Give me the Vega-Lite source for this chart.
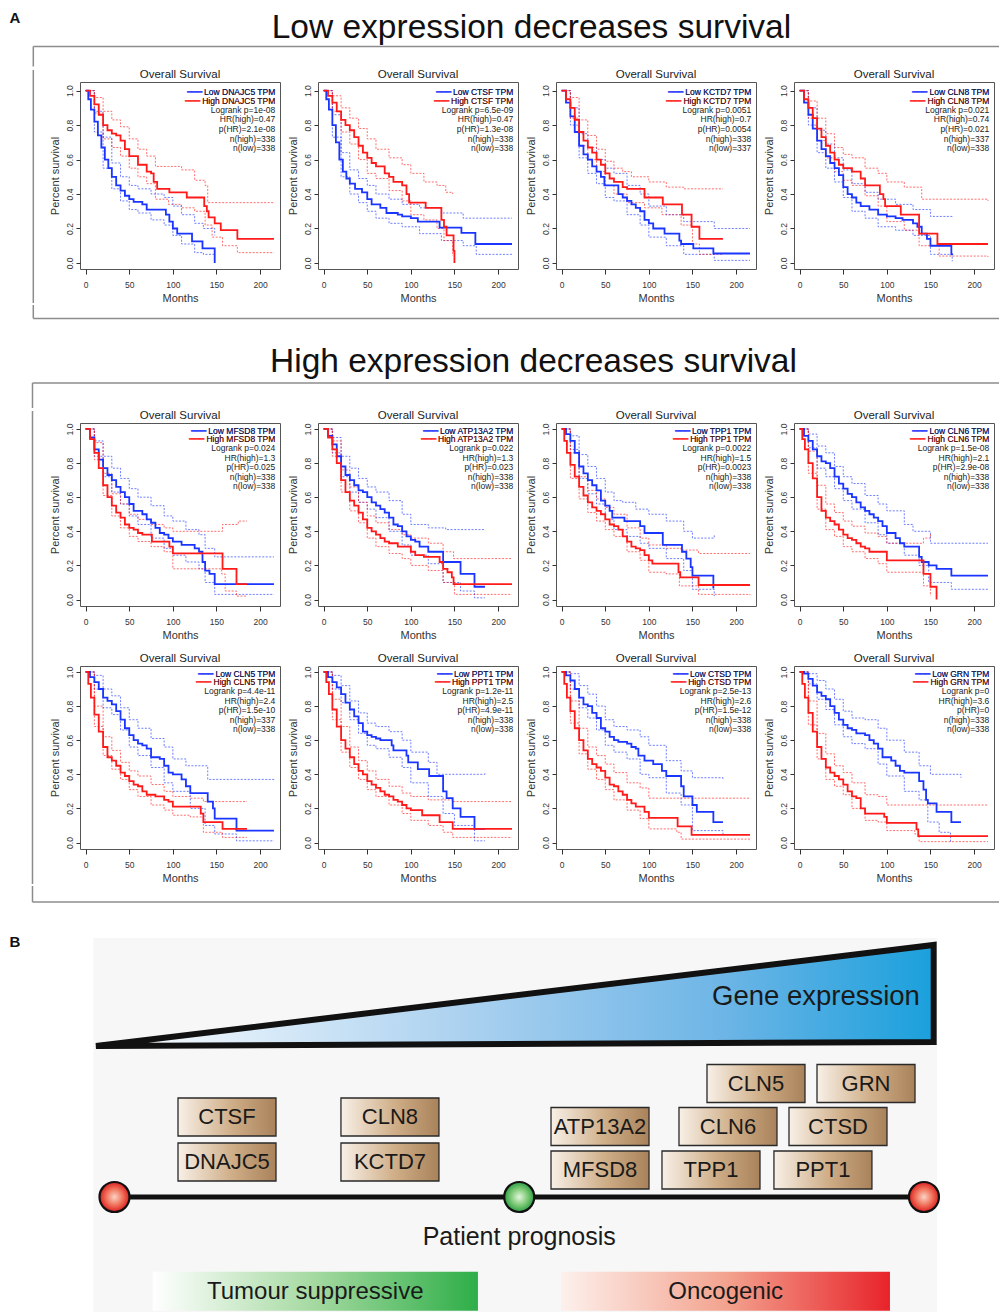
{
"$schema": "https://vega.github.io/schema/vega-lite/v6.json",
"background": "white",
"padding": 0,
"spacing": 0,
"config": {
  "font": "Liberation Sans",
  "view": {"stroke": "#555", "strokeWidth": 1},
  "header": {"labelFont": "Liberation Sans", "labelFontSize": 11.5, "labelColor": "#222", "labelPadding": 1.5},
  "axis": {"labelFont": "Liberation Sans", "titleFont": "Liberation Sans", "grid": false, "domain": false, "tickColor": "#333", "labelColor": "#333", "titleColor": "#333", "titleFontWeight": "normal", "labelFlush": false, "labelOverlap": false},
  "text": {"font": "Liberation Sans"}
},
"datasets": {
  "kmA": [
    {"r":"s","g":"DNAJC5","lo":"Low DNAJC5 TPM","hi":"High DNAJC5 TPM","txt":"Logrank p=1e-08\nHR(high)=0.47\np(HR)=2.1e-08\nn(high)=338\nn(low)=338"},
    {"r":"s","g":"CTSF","lo":"Low CTSF TPM","hi":"High CTSF TPM","txt":"Logrank p=6.5e-09\nHR(high)=0.47\np(HR)=1.3e-08\nn(high)=338\nn(low)=338"},
    {"r":"s","g":"KCTD7","lo":"Low KCTD7 TPM","hi":"High KCTD7 TPM","txt":"Logrank p=0.0051\nHR(high)=0.7\np(HR)=0.0054\nn(high)=338\nn(low)=337"},
    {"r":"s","g":"CLN8","lo":"Low CLN8 TPM","hi":"High CLN8 TPM","txt":"Logrank p=0.021\nHR(high)=0.74\np(HR)=0.021\nn(high)=337\nn(low)=338"},
    {"r":"c","g":"DNAJC5","c":"Low","k":"m","t":[0,3,6,10,14,18,22,26,30,35,40,45,50,55,65,70,88,92,96,100,105,120,122,133,134,147,148],"s":[1,0.95,0.89,0.82,0.74,0.67,0.6,0.55,0.5,0.45,0.42,0.39,0.37,0.355,0.34,0.31,0.31,0.28,0.24,0.2,0.17,0.17,0.125,0.125,0.085,0.085,0]},
    {"r":"c","g":"DNAJC5","c":"Low","k":"u","t":[0,10,20,30,40,50,60,75,90,100,110,125,135,148],"s":[1,0.88,0.73,0.58,0.5,0.45,0.43,0.4,0.38,0.33,0.28,0.23,0.2,0.16]},
    {"r":"c","g":"DNAJC5","c":"Low","k":"l","t":[0,10,20,30,40,50,60,75,90,100,110,125,135,148],"s":[1,0.76,0.55,0.43,0.36,0.31,0.29,0.25,0.22,0.16,0.11,0.06,0.05,0.05]},
    {"r":"c","g":"DNAJC5","c":"High","k":"m","t":[0,5,10,15,20,25,30,35,40,45,50,60,70,75,78,82,95,96,115,116,135,136,139,141,148,155,173,174,216],"s":[1,0.97,0.92,0.86,0.8,0.77,0.75,0.74,0.71,0.66,0.62,0.57,0.53,0.52,0.47,0.43,0.43,0.41,0.41,0.38,0.38,0.33,0.3,0.265,0.23,0.19,0.19,0.14,0.14]},
    {"r":"c","g":"DNAJC5","c":"High","k":"u","t":[0,10,20,30,40,50,60,70,80,95,110,125,137,140,216],"s":[1,0.96,0.88,0.83,0.79,0.72,0.66,0.62,0.56,0.56,0.54,0.48,0.45,0.35,0.35]},
    {"r":"c","g":"DNAJC5","c":"High","k":"l","t":[0,10,20,30,40,50,60,70,80,95,110,125,137,145,157,174,216],"s":[1,0.87,0.72,0.67,0.62,0.55,0.5,0.46,0.37,0.34,0.32,0.3,0.22,0.15,0.1,0.06,0.06]},
    {"r":"c","g":"CTSF","c":"Low","k":"m","t":[0,3,6,10,14,18,22,26,30,36,44,50,55,65,72,85,90,100,108,132,133,157,158,173,174,216],"s":[1,0.95,0.89,0.8,0.7,0.6,0.53,0.49,0.46,0.43,0.41,0.37,0.34,0.32,0.29,0.28,0.27,0.26,0.24,0.24,0.205,0.205,0.175,0.175,0.11,0.11]},
    {"r":"c","g":"CTSF","c":"Low","k":"u","t":[0,10,20,30,40,50,60,75,90,110,135,160,216],"s":[1,0.86,0.64,0.54,0.49,0.45,0.4,0.37,0.34,0.32,0.29,0.26,0.26]},
    {"r":"c","g":"CTSF","c":"Low","k":"l","t":[0,10,20,30,40,50,60,75,90,110,135,160,175,216],"s":[1,0.73,0.5,0.4,0.35,0.3,0.26,0.23,0.21,0.17,0.13,0.1,0.05,0.05]},
    {"r":"c","g":"CTSF","c":"High","k":"m","t":[0,5,10,15,20,25,30,35,40,45,50,55,60,70,75,80,90,95,98,115,117,133,135,138,141,148,149,150],"s":[1,0.97,0.93,0.88,0.83,0.8,0.77,0.73,0.68,0.64,0.61,0.58,0.56,0.52,0.5,0.47,0.45,0.4,0.35,0.35,0.32,0.32,0.25,0.21,0.16,0.16,0.07,0]},
    {"r":"c","g":"CTSF","c":"High","k":"u","t":[0,10,20,30,40,50,60,75,90,100,115,130,140,148],"s":[1,0.97,0.9,0.84,0.78,0.72,0.66,0.61,0.57,0.52,0.47,0.45,0.41,0.4]},
    {"r":"c","g":"CTSF","c":"High","k":"l","t":[0,10,20,30,40,50,60,75,90,100,115,130,138,148],"s":[1,0.88,0.76,0.69,0.6,0.52,0.49,0.42,0.36,0.28,0.25,0.2,0.13,0.04]},
    {"r":"c","g":"KCTD7","c":"Low","k":"m","t":[0,5,10,15,20,25,30,35,40,45,49,60,65,70,75,80,85,90,95,100,105,115,118,130,135,137,150,151,173,174,216],"s":[1,0.93,0.85,0.76,0.68,0.63,0.6,0.56,0.53,0.5,0.45,0.45,0.4,0.38,0.36,0.34,0.32,0.3,0.25,0.23,0.2,0.2,0.17,0.17,0.13,0.11,0.11,0.085,0.085,0.055,0.055]},
    {"r":"c","g":"KCTD7","c":"Low","k":"u","t":[0,10,20,30,40,50,60,75,90,100,120,140,175,216],"s":[1,0.9,0.75,0.67,0.6,0.55,0.52,0.45,0.4,0.33,0.28,0.24,0.2,0.2]},
    {"r":"c","g":"KCTD7","c":"Low","k":"l","t":[0,10,20,30,40,50,60,75,90,100,120,140,175,216],"s":[1,0.8,0.61,0.52,0.46,0.38,0.36,0.28,0.22,0.15,0.1,0.05,0.015,0.015]},
    {"r":"c","g":"KCTD7","c":"High","k":"m","t":[0,5,10,15,20,25,30,35,40,45,50,55,60,70,75,90,95,115,116,137,138,148,149,156,158,185],"s":[1,0.95,0.9,0.83,0.76,0.71,0.67,0.64,0.6,0.57,0.52,0.49,0.47,0.44,0.43,0.43,0.38,0.38,0.34,0.34,0.28,0.28,0.21,0.21,0.14,0.14]},
    {"r":"c","g":"KCTD7","c":"High","k":"u","t":[0,10,20,30,40,50,60,70,80,100,120,140,185],"s":[1,0.96,0.83,0.74,0.66,0.59,0.55,0.53,0.5,0.47,0.44,0.43,0.43]},
    {"r":"c","g":"KCTD7","c":"High","k":"l","t":[0,10,20,30,40,50,60,75,95,115,137,150,158,185],"s":[1,0.84,0.68,0.6,0.53,0.45,0.4,0.35,0.32,0.28,0.22,0.11,0.05,0.05]},
    {"r":"c","g":"CLN8","c":"Low","k":"m","t":[0,5,10,15,20,25,30,35,40,45,50,55,60,65,70,80,90,100,110,118,130,135,140,146,150,172,174,176],"s":[1,0.93,0.86,0.78,0.71,0.66,0.62,0.58,0.55,0.51,0.44,0.4,0.38,0.35,0.33,0.31,0.28,0.27,0.26,0.25,0.23,0.21,0.17,0.14,0.1,0.1,0.05,0.05]},
    {"r":"c","g":"CLN8","c":"Low","k":"u","t":[0,10,20,30,40,50,60,75,90,110,130,150,175],"s":[1,0.9,0.77,0.69,0.61,0.54,0.46,0.41,0.37,0.34,0.31,0.27,0.26]},
    {"r":"c","g":"CLN8","c":"Low","k":"l","t":[0,10,20,30,40,50,60,75,90,110,130,150,175],"s":[1,0.8,0.64,0.55,0.47,0.38,0.3,0.26,0.21,0.19,0.16,0.05,0.01]},
    {"r":"c","g":"CLN8","c":"High","k":"m","t":[0,5,10,15,20,25,30,35,40,45,50,60,66,70,75,88,92,96,98,114,116,135,137,157,158,216],"s":[1,0.95,0.9,0.84,0.78,0.73,0.68,0.64,0.6,0.57,0.55,0.53,0.53,0.49,0.45,0.45,0.4,0.37,0.33,0.33,0.28,0.28,0.17,0.17,0.11,0.11]},
    {"r":"c","g":"CLN8","c":"High","k":"u","t":[0,10,20,30,40,50,60,75,90,100,120,140,216],"s":[1,0.94,0.84,0.75,0.67,0.63,0.61,0.55,0.52,0.47,0.44,0.37,0.36]},
    {"r":"c","g":"CLN8","c":"High","k":"l","t":[0,10,20,30,40,50,60,75,90,100,120,137,160,216],"s":[1,0.84,0.71,0.61,0.53,0.48,0.45,0.39,0.33,0.24,0.19,0.1,0.04,0.035]}
  ],
  "kmB": [
    {"r":"s","g":"MFSD8","lo":"Low MFSD8 TPM","hi":"High MFSD8 TPM","txt":"Logrank p=0.024\nHR(high)=1.3\np(HR)=0.025\nn(high)=338\nn(low)=338"},
    {"r":"s","g":"ATP13A2","lo":"Low ATP13A2 TPM","hi":"High ATP13A2 TPM","txt":"Logrank p=0.022\nHR(high)=1.3\np(HR)=0.023\nn(high)=338\nn(low)=338"},
    {"r":"s","g":"TPP1","lo":"Low TPP1 TPM","hi":"High TPP1 TPM","txt":"Logrank p=0.0022\nHR(high)=1.5\np(HR)=0.0023\nn(high)=338\nn(low)=338"},
    {"r":"s","g":"CLN6","lo":"Low CLN6 TPM","hi":"High CLN6 TPM","txt":"Logrank p=1.5e-08\nHR(high)=2.1\np(HR)=2.9e-08\nn(high)=338\nn(low)=338"},
    {"r":"s","g":"CLN5","lo":"Low CLN5 TPM","hi":"High CLN5 TPM","txt":"Logrank p=4.4e-11\nHR(high)=2.4\np(HR)=1.5e-10\nn(high)=337\nn(low)=338"},
    {"r":"s","g":"PPT1","lo":"Low PPT1 TPM","hi":"High PPT1 TPM","txt":"Logrank p=1.2e-11\nHR(high)=2.5\np(HR)=4.9e-11\nn(high)=338\nn(low)=338"},
    {"r":"s","g":"CTSD","lo":"Low CTSD TPM","hi":"High CTSD TPM","txt":"Logrank p=2.5e-13\nHR(high)=2.6\np(HR)=1.5e-12\nn(high)=338\nn(low)=338"},
    {"r":"s","g":"GRN","lo":"Low GRN TPM","hi":"High GRN TPM","txt":"Logrank p=0\nHR(high)=3.6\np(HR)=0\nn(high)=338\nn(low)=338"},
    {"r":"c","g":"MFSD8","c":"Low","k":"m","t":[0,5,10,15,20,25,30,35,40,45,50,55,65,70,75,80,85,90,95,100,110,125,130,134,137,142,148,216],"s":[1,0.95,0.88,0.82,0.77,0.73,0.7,0.66,0.63,0.6,0.56,0.52,0.5,0.47,0.45,0.42,0.39,0.38,0.36,0.34,0.32,0.3,0.28,0.22,0.17,0.15,0.09,0.09]},
    {"r":"c","g":"MFSD8","c":"Low","k":"u","t":[0,10,20,30,40,50,60,75,90,100,115,130,137,148,216],"s":[1,0.93,0.84,0.77,0.71,0.65,0.6,0.55,0.49,0.46,0.41,0.38,0.3,0.25,0.25]},
    {"r":"c","g":"MFSD8","c":"Low","k":"l","t":[0,10,20,30,40,50,60,75,90,100,115,130,137,148,216],"s":[1,0.84,0.72,0.63,0.56,0.49,0.44,0.36,0.3,0.26,0.22,0.18,0.1,0.03,0.03]},
    {"r":"c","g":"MFSD8","c":"High","k":"m","t":[0,5,10,15,20,25,30,35,40,45,50,55,60,65,75,76,93,96,100,156,157,172,173,185],"s":[1,0.94,0.86,0.77,0.67,0.6,0.55,0.51,0.48,0.44,0.42,0.41,0.39,0.38,0.38,0.34,0.34,0.31,0.27,0.27,0.18,0.18,0.09,0.09]},
    {"r":"c","g":"MFSD8","c":"High","k":"u","t":[0,10,20,30,40,50,60,75,90,100,156,157,175,185],"s":[1,0.92,0.74,0.62,0.56,0.5,0.47,0.44,0.42,0.4,0.4,0.44,0.46,0.46]},
    {"r":"c","g":"MFSD8","c":"High","k":"l","t":[0,10,20,30,40,50,60,75,90,100,156,160,173,185],"s":[1,0.82,0.61,0.49,0.42,0.37,0.34,0.31,0.28,0.18,0.15,0.05,0.02,0.02]},
    {"r":"c","g":"ATP13A2","c":"Low","k":"m","t":[0,5,10,15,20,25,30,35,40,45,50,55,60,65,70,75,80,85,90,95,100,105,110,118,120,135,137,155,157,172,173,185],"s":[1,0.96,0.91,0.84,0.78,0.73,0.7,0.67,0.64,0.63,0.6,0.57,0.55,0.53,0.51,0.48,0.44,0.43,0.4,0.37,0.35,0.34,0.31,0.31,0.28,0.28,0.22,0.22,0.15,0.15,0.075,0.075]},
    {"r":"c","g":"ATP13A2","c":"Low","k":"u","t":[0,10,20,30,40,50,60,75,90,100,120,140,185],"s":[1,0.95,0.84,0.77,0.71,0.66,0.63,0.58,0.5,0.44,0.42,0.41,0.41]},
    {"r":"c","g":"ATP13A2","c":"Low","k":"l","t":[0,10,20,30,40,50,60,75,90,100,120,137,157,173,185],"s":[1,0.86,0.72,0.63,0.57,0.53,0.48,0.4,0.32,0.26,0.21,0.1,0.05,0.01,0.01]},
    {"r":"c","g":"ATP13A2","c":"High","k":"m","t":[0,5,10,15,20,25,30,35,40,45,50,55,60,65,70,75,85,95,100,105,115,130,133,137,142,147,149,216],"s":[1,0.95,0.88,0.8,0.7,0.63,0.58,0.55,0.51,0.47,0.42,0.4,0.38,0.36,0.34,0.33,0.31,0.31,0.28,0.26,0.25,0.25,0.22,0.18,0.16,0.13,0.09,0.09]},
    {"r":"c","g":"ATP13A2","c":"High","k":"u","t":[0,10,20,30,40,50,60,75,90,100,120,137,149,216],"s":[1,0.93,0.76,0.66,0.57,0.49,0.45,0.41,0.38,0.36,0.33,0.28,0.24,0.24]},
    {"r":"c","g":"ATP13A2","c":"High","k":"l","t":[0,10,20,30,40,50,60,75,90,100,120,137,150,216],"s":[1,0.84,0.63,0.52,0.45,0.36,0.31,0.27,0.24,0.2,0.17,0.1,0.03,0.03]},
    {"r":"c","g":"TPP1","c":"Low","k":"m","t":[0,5,10,15,20,25,30,35,40,45,50,55,58,70,72,88,90,95,115,116,137,138,143,148,150,172,174,175],"s":[1,0.97,0.93,0.86,0.78,0.74,0.7,0.67,0.64,0.58,0.55,0.52,0.48,0.48,0.46,0.46,0.43,0.39,0.39,0.32,0.32,0.28,0.24,0.19,0.14,0.14,0.07,0.07]},
    {"r":"c","g":"TPP1","c":"Low","k":"u","t":[0,10,20,30,40,50,60,70,85,100,120,140,150,175],"s":[1,0.96,0.85,0.78,0.71,0.63,0.58,0.57,0.53,0.5,0.46,0.4,0.36,0.38]},
    {"r":"c","g":"TPP1","c":"Low","k":"l","t":[0,10,20,30,40,50,60,75,90,100,120,140,150,175],"s":[1,0.88,0.71,0.62,0.56,0.47,0.41,0.37,0.33,0.3,0.24,0.17,0.06,0.02]},
    {"r":"c","g":"TPP1","c":"High","k":"m","t":[0,3,6,10,15,20,25,30,35,40,45,50,55,60,65,70,75,80,85,90,95,100,104,132,134,136,156,157,216],"s":[1,0.93,0.86,0.79,0.72,0.66,0.61,0.57,0.54,0.52,0.5,0.47,0.44,0.43,0.41,0.37,0.34,0.31,0.3,0.29,0.26,0.23,0.21,0.21,0.16,0.13,0.13,0.085,0.085]},
    {"r":"c","g":"TPP1","c":"High","k":"u","t":[0,10,20,30,40,50,60,75,90,100,120,137,157,216],"s":[1,0.86,0.72,0.64,0.59,0.54,0.5,0.42,0.36,0.32,0.3,0.29,0.27,0.27]},
    {"r":"c","g":"TPP1","c":"High","k":"l","t":[0,10,20,30,40,50,60,75,90,100,120,135,157,216],"s":[1,0.71,0.59,0.51,0.46,0.41,0.37,0.28,0.23,0.16,0.15,0.08,0.03,0.025]},
    {"r":"c","g":"CLN6","c":"Low","k":"m","t":[0,5,10,15,20,25,30,35,40,45,50,55,60,65,70,75,80,85,90,95,100,110,115,120,135,137,140,148,157,172,174,216],"s":[1,0.96,0.93,0.88,0.84,0.81,0.8,0.77,0.72,0.68,0.65,0.62,0.6,0.57,0.54,0.52,0.5,0.48,0.46,0.43,0.39,0.36,0.33,0.31,0.31,0.25,0.22,0.2,0.18,0.18,0.14,0.14]},
    {"r":"c","g":"CLN6","c":"Low","k":"u","t":[0,10,20,30,40,50,60,75,90,100,120,130,150,216],"s":[1,0.97,0.9,0.86,0.78,0.72,0.68,0.61,0.56,0.52,0.44,0.4,0.33,0.33]},
    {"r":"c","g":"CLN6","c":"Low","k":"l","t":[0,10,20,30,40,50,60,75,90,100,120,137,148,174,216],"s":[1,0.89,0.77,0.72,0.65,0.58,0.53,0.45,0.38,0.33,0.26,0.2,0.1,0.06,0.055]},
    {"r":"c","g":"CLN6","c":"High","k":"m","t":[0,3,6,10,15,20,25,30,35,40,45,50,55,60,65,70,75,80,98,100,141,142,148,150,155,157],"s":[1,0.94,0.88,0.8,0.71,0.6,0.52,0.48,0.46,0.44,0.41,0.38,0.36,0.35,0.33,0.31,0.3,0.28,0.28,0.23,0.23,0.15,0.15,0.075,0.075,0]},
    {"r":"c","g":"CLN6","c":"High","k":"u","t":[0,10,20,30,40,50,60,75,90,100,120,142,150],"s":[1,0.87,0.67,0.56,0.51,0.46,0.43,0.39,0.37,0.33,0.33,0.36,0.39]},
    {"r":"c","g":"CLN6","c":"High","k":"l","t":[0,10,20,30,40,50,60,75,90,100,120,142,150],"s":[1,0.74,0.53,0.41,0.37,0.31,0.28,0.24,0.21,0.16,0.16,0.08,0.02]},
    {"r":"c","g":"CLN5","c":"Low","k":"m","t":[0,5,10,15,20,25,30,35,40,45,50,55,60,65,70,75,85,90,95,100,110,115,120,135,140,146,148,172,173,216],"s":[1,0.97,0.94,0.9,0.85,0.83,0.81,0.77,0.72,0.67,0.63,0.6,0.58,0.57,0.55,0.5,0.49,0.45,0.41,0.4,0.37,0.33,0.29,0.29,0.24,0.2,0.14,0.14,0.07,0.07]},
    {"r":"c","g":"CLN5","c":"Low","k":"u","t":[0,10,20,30,40,50,60,75,90,100,115,140,216],"s":[1,0.98,0.9,0.86,0.79,0.72,0.67,0.61,0.56,0.49,0.45,0.37,0.38]},
    {"r":"c","g":"CLN5","c":"Low","k":"l","t":[0,10,20,30,40,50,60,75,90,100,120,137,148,173,216],"s":[1,0.9,0.79,0.75,0.66,0.56,0.51,0.44,0.35,0.3,0.2,0.1,0.05,0.01,0.01]},
    {"r":"c","g":"CLN5","c":"High","k":"m","t":[0,3,6,10,15,20,25,30,35,40,45,50,55,60,65,70,80,90,95,100,130,132,135,156,157,185],"s":[1,0.93,0.85,0.75,0.65,0.56,0.5,0.48,0.45,0.41,0.39,0.36,0.34,0.33,0.3,0.28,0.27,0.25,0.24,0.21,0.21,0.17,0.12,0.12,0.08,0.08]},
    {"r":"c","g":"CLN5","c":"High","k":"u","t":[0,10,20,30,40,50,60,75,90,100,120,135,185],"s":[1,0.8,0.62,0.54,0.47,0.42,0.39,0.34,0.3,0.27,0.26,0.24,0.24]},
    {"r":"c","g":"CLN5","c":"High","k":"l","t":[0,10,20,30,40,50,60,75,90,100,120,135,157,185],"s":[1,0.68,0.51,0.43,0.37,0.31,0.27,0.22,0.19,0.16,0.15,0.06,0.03,0.03]},
    {"r":"c","g":"PPT1","c":"Low","k":"m","t":[0,5,10,15,20,25,30,35,40,45,50,55,60,65,75,78,80,92,95,97,107,108,120,121,135,137,141,147,148,157,172,173,185],"s":[1,0.97,0.94,0.91,0.87,0.82,0.78,0.74,0.7,0.65,0.63,0.62,0.61,0.6,0.6,0.57,0.54,0.54,0.51,0.47,0.47,0.43,0.43,0.39,0.39,0.3,0.26,0.26,0.2,0.15,0.15,0.08,0.08]},
    {"r":"c","g":"PPT1","c":"Low","k":"u","t":[0,10,20,30,40,50,60,75,90,100,120,130,150,185],"s":[1,0.98,0.92,0.83,0.76,0.7,0.68,0.65,0.6,0.53,0.47,0.4,0.4,0.41]},
    {"r":"c","g":"PPT1","c":"Low","k":"l","t":[0,10,20,30,40,50,60,75,90,100,120,137,150,173,185],"s":[1,0.9,0.82,0.72,0.64,0.57,0.55,0.5,0.44,0.35,0.27,0.17,0.1,0.01,0.01]},
    {"r":"c","g":"PPT1","c":"High","k":"m","t":[0,3,6,10,15,20,25,30,35,40,45,50,55,60,65,70,75,80,85,90,95,100,110,113,132,133,147,148,216],"s":[1,0.94,0.87,0.78,0.68,0.6,0.55,0.5,0.46,0.42,0.4,0.36,0.34,0.32,0.3,0.28,0.27,0.25,0.24,0.22,0.2,0.19,0.19,0.16,0.16,0.12,0.12,0.08,0.08]},
    {"r":"c","g":"PPT1","c":"High","k":"u","t":[0,10,20,30,40,50,60,75,90,100,120,148,216],"s":[1,0.84,0.68,0.56,0.48,0.42,0.37,0.33,0.29,0.27,0.25,0.24,0.24]},
    {"r":"c","g":"PPT1","c":"High","k":"l","t":[0,10,20,30,40,50,60,75,90,100,120,137,148,216],"s":[1,0.72,0.53,0.44,0.37,0.31,0.27,0.22,0.17,0.13,0.1,0.06,0.03,0.03]},
    {"r":"c","g":"CTSD","c":"Low","k":"m","t":[0,5,10,15,20,25,30,35,40,45,50,55,60,65,75,80,85,88,95,103,105,115,120,135,137,140,147,150,155,172,174,185],"s":[1,0.98,0.95,0.9,0.85,0.81,0.8,0.76,0.73,0.67,0.65,0.62,0.6,0.59,0.58,0.56,0.55,0.51,0.48,0.48,0.46,0.42,0.39,0.39,0.33,0.27,0.27,0.22,0.18,0.18,0.12,0.12]},
    {"r":"c","g":"CTSD","c":"Low","k":"u","t":[0,10,20,30,40,50,60,75,90,100,120,137,150,185],"s":[1,0.99,0.92,0.87,0.8,0.72,0.68,0.66,0.62,0.57,0.48,0.42,0.38,0.37]},
    {"r":"c","g":"CTSD","c":"Low","k":"l","t":[0,10,20,30,40,50,60,75,90,100,120,137,150,185],"s":[1,0.9,0.79,0.73,0.66,0.57,0.53,0.49,0.4,0.38,0.29,0.22,0.07,0.05]},
    {"r":"c","g":"CTSD","c":"High","k":"m","t":[0,3,6,10,15,20,25,30,35,40,45,50,55,60,65,70,75,80,85,90,95,100,132,133,148,149,216],"s":[1,0.93,0.85,0.77,0.67,0.6,0.54,0.49,0.46,0.44,0.42,0.38,0.34,0.33,0.3,0.28,0.25,0.23,0.21,0.21,0.18,0.145,0.145,0.095,0.095,0.045,0.045]},
    {"r":"c","g":"CTSD","c":"High","k":"u","t":[0,10,20,30,40,50,60,75,90,100,216],"s":[1,0.83,0.67,0.56,0.51,0.46,0.41,0.35,0.32,0.26,0.26]},
    {"r":"c","g":"CTSD","c":"High","k":"l","t":[0,10,20,30,40,50,60,75,90,100,132,137,216],"s":[1,0.7,0.52,0.43,0.37,0.31,0.25,0.19,0.14,0.08,0.06,0.02,0.01]},
    {"r":"c","g":"GRN","c":"Low","k":"m","t":[0,5,10,15,20,25,30,35,40,45,50,55,60,65,75,80,85,90,95,105,110,115,120,135,137,142,145,147,155,157,172,174,185],"s":[1,0.99,0.96,0.92,0.88,0.86,0.84,0.8,0.76,0.72,0.69,0.67,0.66,0.64,0.63,0.6,0.58,0.55,0.5,0.48,0.45,0.42,0.41,0.41,0.36,0.31,0.25,0.23,0.23,0.18,0.18,0.12,0.12]},
    {"r":"c","g":"GRN","c":"Low","k":"u","t":[0,10,20,30,40,50,60,75,90,100,120,137,150,185],"s":[1,0.99,0.95,0.9,0.84,0.77,0.73,0.72,0.67,0.6,0.53,0.45,0.4,0.38]},
    {"r":"c","g":"GRN","c":"Low","k":"l","t":[0,10,20,30,40,50,60,75,90,100,120,137,147,160,173],"s":[1,0.93,0.84,0.78,0.69,0.62,0.58,0.55,0.46,0.39,0.3,0.25,0.12,0.06,0.0]},
    {"r":"c","g":"GRN","c":"High","k":"m","t":[0,3,6,10,15,20,25,30,35,40,45,50,55,60,65,70,75,95,97,100,132,134,136,216],"s":[1,0.93,0.85,0.76,0.65,0.56,0.49,0.44,0.41,0.39,0.37,0.34,0.3,0.27,0.26,0.2,0.17,0.17,0.15,0.115,0.115,0.077,0.038,0.038]},
    {"r":"c","g":"GRN","c":"High","k":"u","t":[0,10,20,30,40,50,60,75,90,100,216],"s":[1,0.83,0.64,0.52,0.45,0.41,0.35,0.28,0.27,0.22,0.22]},
    {"r":"c","g":"GRN","c":"High","k":"l","t":[0,10,20,30,40,50,60,75,90,100,132,137,216],"s":[1,0.69,0.49,0.37,0.33,0.28,0.2,0.13,0.12,0.07,0.05,0.005,0.005]}
  ],
  "genes": [
    {"gene":"CTSF","p":13.9,"lvl":8.0},{"gene":"DNAJC5","p":13.9,"lvl":3.5},
    {"gene":"CLN8","p":34.03,"lvl":8.0},{"gene":"KCTD7","p":34.03,"lvl":3.5},
    {"gene":"ATP13A2","p":59.98,"lvl":7.05},{"gene":"MFSD8","p":59.98,"lvl":2.7},
    {"gene":"CLN5","p":79.25,"lvl":11.35},{"gene":"GRN","p":92.84,"lvl":11.35},
    {"gene":"CLN6","p":75.79,"lvl":7.05},{"gene":"CTSD","p":89.38,"lvl":7.05},
    {"gene":"TPP1","p":73.69,"lvl":2.7},{"gene":"PPT1","p":87.52,"lvl":2.7}
  ],
  "nodes": [{"p":0,"tone":"poor"},{"p":50,"tone":"good"},{"p":100,"tone":"poor"}],
  "wedge": [{"expr":-2.29,"hi":15.1,"lo":15.1},{"expr":101.2,"hi":25.2,"lo":15.5}]
},
"vconcat": [
  {
    "width": 999, "height": 66.5, "view": {"stroke": null},
    "layer": [
      {"data": {"values": [{"label": "A"}]},
       "mark": {"type": "text", "align": "center", "baseline": "middle", "fontSize": 15, "fontWeight": "bold", "color": "#111"},
       "encoding": {"x": {"datum": -12.29, "type": "quantitative", "scale": {"domain": [-14.144,109.27], "nice": false, "zero": false}, "axis": null},
                    "y": {"datum": 1.8, "type": "quantitative", "scale": {"domain": [0,6.65], "reverse": true, "nice": false, "zero": false}, "axis": null},
                    "text": {"field": "label"}}},
      {"data": {"values": [{"label": "Low expression decreases survival"}]},
       "mark": {"type": "text", "align": "center", "baseline": "middle", "fontSize": 33.5, "color": "#111"},
       "encoding": {"x": {"datum": 51.51}, "y": {"datum": 2.75}, "text": {"field": "label"}}},
      {"data": {"values": [{}]},
       "mark": {"type": "rule", "color": "#8c8c8c", "strokeWidth": 1.5},
       "encoding": {"x": {"datum": -10.03}, "x2": {"datum": 109.27}, "y": {"datum": 4.65}}},
      {"data": {"values": [{}]},
       "mark": {"type": "rule", "color": "#8c8c8c", "strokeWidth": 1.5},
       "encoding": {"x": {"datum": -10.03}, "y": {"datum": 4.65}, "y2": {"datum": 6.65}}}
    ]
  },
  {
    "spacing": 0,
    "hconcat": [
      {"width": 49, "height": 221, "view": {"stroke": null},
       "data": {"values": [{}]},
       "mark": {"type": "rule", "color": "#8c8c8c", "strokeWidth": 1.5},
       "encoding": {"x": {"datum": -10.03, "type": "quantitative", "scale": {"domain": [-14.144,-8.091], "nice": false, "zero": false}, "axis": null},
                    "y": {"datum": 0, "type": "quantitative", "scale": {"domain": [0,1], "nice": false, "zero": false}, "axis": null}, "y2": {"datum": 1.0543}}},
      {
        "data": {"name": "kmA"},
        "facet": {"field": "g", "type": "nominal", "sort": ["DNAJC5","CTSF","KCTD7","CLN8"], "header": {"title": null, "labelExpr": "'Overall Survival'"}},
        "columns": 4,
        "bounds": "flush",
        "spacing": {"row": 60, "column": 38},
        "resolve": {"axis": {"x": "independent", "y": "independent"}},
        "spec": {
          "width": 200, "height": 187,
          "layer": [
            {"transform": [{"filter": "datum.r==='c' && datum.k!=='m'"}, {"flatten": ["t","s"]}],
             "mark": {"type": "line", "interpolate": "step-after", "strokeWidth": 0.9, "strokeDash": [2,1.5], "opacity": 0.7},
             "encoding": {
               "x": {"field": "t", "type": "quantitative", "title": "Months", "scale": {"domain": [-6.5,222.9], "nice": false, "zero": false}, "axis": {"values": [0,50,100,150,200], "tickCount": 10, "tickSize": 5, "labelFontSize": 8.5, "labelPadding": 6, "titleFontSize": 11, "titlePadding": 4, "labelOverlap": false, "labelFlush": false}},
               "y": {"field": "s", "type": "quantitative", "title": "Percent survival", "scale": {"domain": [-0.035,1.05], "nice": false, "zero": false}, "axis": {"values": [0,0.2,0.4,0.6,0.8,1], "tickCount": 10, "format": ".1f", "tickSize": 4, "labelFontSize": 8.5, "labelAngle": 270, "labelAlign": "center", "labelBaseline": "bottom", "labelPadding": 1.5, "titleFontSize": 11, "titlePadding": 5, "labelOverlap": false, "labelFlush": false, "labelBound": false}},
               "color": {"field": "c", "type": "nominal", "scale": {"domain": ["Low","High"], "range": ["#1a35ff","#ff1a1a"]}, "legend": null},
               "detail": {"field": "k"}}},
            {"transform": [{"filter": "datum.r==='c' && datum.k==='m'"}, {"flatten": ["t","s"]}],
             "mark": {"type": "line", "interpolate": "step-after", "strokeWidth": 1.8},
             "encoding": {
               "x": {"field": "t", "type": "quantitative", "title": "Months", "axis": {"values": [0,50,100,150,200], "tickCount": 10, "tickSize": 5, "labelFontSize": 8.5, "labelPadding": 6, "titleFontSize": 11, "titlePadding": 4, "labelOverlap": false, "labelFlush": false}},
               "y": {"field": "s", "type": "quantitative", "title": "Percent survival", "axis": {"values": [0,0.2,0.4,0.6,0.8,1], "tickCount": 10, "format": ".1f", "tickSize": 4, "labelFontSize": 8.5, "labelAngle": 270, "labelAlign": "center", "labelBaseline": "bottom", "labelPadding": 1.5, "titleFontSize": 11, "titlePadding": 5, "labelOverlap": false, "labelFlush": false, "labelBound": false}},
               "color": {"field": "c", "type": "nominal", "legend": null}}},
            {"transform": [{"filter": "datum.r==='s'"}, {"calculate": "'━━━ ' + datum.lo", "as": "lok"}],
             "mark": {"type": "text", "align": "right", "baseline": "middle", "fontSize": 8.5, "color": "#1a35ff"},
             "encoding": {"x": {"datum": 217.5}, "y": {"datum": 0.99}, "text": {"field": "lok", "type": "nominal"}}},
            {"transform": [{"filter": "datum.r==='s'"}, {"calculate": "'━━━ ' + datum.hi", "as": "hik"}],
             "mark": {"type": "text", "align": "right", "baseline": "middle", "fontSize": 8.5, "color": "#ff1a1a"},
             "encoding": {"x": {"datum": 217.5}, "y": {"datum": 0.942}, "text": {"field": "hik", "type": "nominal"}}},
            {"transform": [{"filter": "datum.r==='s'"}],
             "mark": {"type": "text", "align": "right", "baseline": "middle", "fontSize": 8.5, "color": "#222"},
             "encoding": {"x": {"datum": 217.5}, "y": {"datum": 0.99}, "text": {"field": "lo", "type": "nominal"}}},
            {"transform": [{"filter": "datum.r==='s'"}],
             "mark": {"type": "text", "align": "right", "baseline": "middle", "fontSize": 8.5, "color": "#222"},
             "encoding": {"x": {"datum": 217.5}, "y": {"datum": 0.942}, "text": {"field": "hi", "type": "nominal"}}},
            {"transform": [{"filter": "datum.r==='s'"}],
             "mark": {"type": "text", "align": "right", "baseline": "top", "fontSize": 8.5, "lineHeight": 9.6, "lineBreak": "\n", "color": "#222"},
             "encoding": {"x": {"datum": 217.5}, "y": {"datum": 0.912}, "text": {"field": "txt", "type": "nominal"}}}
          ]
        }
      }
    ]
  },
  {
    "width": 999, "height": 103, "view": {"stroke": null},
    "layer": [
      {"data": {"values": [{}]},
       "mark": {"type": "rule", "color": "#8c8c8c", "strokeWidth": 1.5},
       "encoding": {"x": {"datum": -10.03, "type": "quantitative", "scale": {"domain": [-14.144,109.27], "nice": false, "zero": false}, "axis": null},
                    "y": {"datum": 0, "type": "quantitative", "scale": {"domain": [0,10.3], "reverse": true, "nice": false, "zero": false}, "axis": null}, "y2": {"datum": 1.35}}},
      {"data": {"values": [{}]},
       "mark": {"type": "rule", "color": "#8c8c8c", "strokeWidth": 1.5},
       "encoding": {"x": {"datum": -10.03}, "x2": {"datum": 109.27}, "y": {"datum": 1.35}}},
      {"data": {"values": [{"label": "High expression decreases survival"}]},
       "mark": {"type": "text", "align": "center", "baseline": "middle", "fontSize": 33.5, "color": "#111"},
       "encoding": {"x": {"datum": 51.76}, "y": {"datum": 5.65}, "text": {"field": "label"}}},
      {"data": {"values": [{}]},
       "mark": {"type": "rule", "color": "#8c8c8c", "strokeWidth": 1.5},
       "encoding": {"x": {"datum": -10.13}, "x2": {"datum": 109.27}, "y": {"datum": 7.8}}},
      {"data": {"values": [{}]},
       "mark": {"type": "rule", "color": "#8c8c8c", "strokeWidth": 1.5},
       "encoding": {"x": {"datum": -10.13}, "y": {"datum": 7.8}, "y2": {"datum": 10.3}}}
    ]
  },
  {
    "spacing": 0,
    "hconcat": [
      {"width": 49, "height": 461, "view": {"stroke": null},
       "data": {"values": [{}]},
       "mark": {"type": "rule", "color": "#8c8c8c", "strokeWidth": 1.5},
       "encoding": {"x": {"datum": -10.13, "type": "quantitative", "scale": {"domain": [-14.144,-8.091], "nice": false, "zero": false}, "axis": null},
                    "y": {"datum": 0, "type": "quantitative", "scale": {"domain": [0,1], "nice": false, "zero": false}, "axis": null}, "y2": {"datum": 1.026}}},
      {
        "data": {"name": "kmB"},
        "facet": {"field": "g", "type": "nominal", "sort": ["MFSD8","ATP13A2","TPP1","CLN6","CLN5","PPT1","CTSD","GRN"], "header": {"title": null, "labelExpr": "'Overall Survival'"}},
        "columns": 4,
        "bounds": "flush",
        "spacing": {"row": 60, "column": 38},
        "resolve": {"axis": {"x": "independent", "y": "independent"}},
        "spec": {
          "width": 200, "height": 183,
          "layer": [
            {"transform": [{"filter": "datum.r==='c' && datum.k!=='m'"}, {"flatten": ["t","s"]}],
             "mark": {"type": "line", "interpolate": "step-after", "strokeWidth": 0.9, "strokeDash": [2,1.5], "opacity": 0.7},
             "encoding": {
               "x": {"field": "t", "type": "quantitative", "title": "Months", "scale": {"domain": [-6.5,222.9], "nice": false, "zero": false}, "axis": {"values": [0,50,100,150,200], "tickCount": 10, "tickSize": 5, "labelFontSize": 8.5, "labelPadding": 6, "titleFontSize": 11, "titlePadding": 4, "labelOverlap": false, "labelFlush": false}},
               "y": {"field": "s", "type": "quantitative", "title": "Percent survival", "scale": {"domain": [-0.038,1.035], "nice": false, "zero": false}, "axis": {"values": [0,0.2,0.4,0.6,0.8,1], "tickCount": 10, "format": ".1f", "tickSize": 4, "labelFontSize": 8.5, "labelAngle": 270, "labelAlign": "center", "labelBaseline": "bottom", "labelPadding": 1.5, "titleFontSize": 11, "titlePadding": 5, "labelOverlap": false, "labelFlush": false, "labelBound": false}},
               "color": {"field": "c", "type": "nominal", "scale": {"domain": ["Low","High"], "range": ["#1a35ff","#ff1a1a"]}, "legend": null},
               "detail": {"field": "k"}}},
            {"transform": [{"filter": "datum.r==='c' && datum.k==='m'"}, {"flatten": ["t","s"]}],
             "mark": {"type": "line", "interpolate": "step-after", "strokeWidth": 1.8},
             "encoding": {
               "x": {"field": "t", "type": "quantitative", "title": "Months", "axis": {"values": [0,50,100,150,200], "tickCount": 10, "tickSize": 5, "labelFontSize": 8.5, "labelPadding": 6, "titleFontSize": 11, "titlePadding": 4, "labelOverlap": false, "labelFlush": false}},
               "y": {"field": "s", "type": "quantitative", "title": "Percent survival", "axis": {"values": [0,0.2,0.4,0.6,0.8,1], "tickCount": 10, "format": ".1f", "tickSize": 4, "labelFontSize": 8.5, "labelAngle": 270, "labelAlign": "center", "labelBaseline": "bottom", "labelPadding": 1.5, "titleFontSize": 11, "titlePadding": 5, "labelOverlap": false, "labelFlush": false, "labelBound": false}},
               "color": {"field": "c", "type": "nominal", "legend": null}}},
            {"transform": [{"filter": "datum.r==='s'"}, {"calculate": "'━━━ ' + datum.lo", "as": "lok"}],
             "mark": {"type": "text", "align": "right", "baseline": "middle", "fontSize": 8.5, "color": "#1a35ff"},
             "encoding": {"x": {"datum": 217.5}, "y": {"datum": 0.99}, "text": {"field": "lok", "type": "nominal"}}},
            {"transform": [{"filter": "datum.r==='s'"}, {"calculate": "'━━━ ' + datum.hi", "as": "hik"}],
             "mark": {"type": "text", "align": "right", "baseline": "middle", "fontSize": 8.5, "color": "#ff1a1a"},
             "encoding": {"x": {"datum": 217.5}, "y": {"datum": 0.942}, "text": {"field": "hik", "type": "nominal"}}},
            {"transform": [{"filter": "datum.r==='s'"}],
             "mark": {"type": "text", "align": "right", "baseline": "middle", "fontSize": 8.5, "color": "#222"},
             "encoding": {"x": {"datum": 217.5}, "y": {"datum": 0.99}, "text": {"field": "lo", "type": "nominal"}}},
            {"transform": [{"filter": "datum.r==='s'"}],
             "mark": {"type": "text", "align": "right", "baseline": "middle", "fontSize": 8.5, "color": "#222"},
             "encoding": {"x": {"datum": 217.5}, "y": {"datum": 0.942}, "text": {"field": "hi", "type": "nominal"}}},
            {"transform": [{"filter": "datum.r==='s'"}],
             "mark": {"type": "text", "align": "right", "baseline": "top", "fontSize": 8.5, "lineHeight": 9.6, "lineBreak": "\n", "color": "#222"},
             "encoding": {"x": {"datum": 217.5}, "y": {"datum": 0.912}, "text": {"field": "txt", "type": "nominal"}}}
          ]
        }
      }
    ]
  },
  {
    "width": 999, "height": 426,
    "view": {"stroke": null},
    "layer": [
      {"data": {"values": [{}]},
       "mark": {"type": "rect", "fill": "#f7f7f7"},
       "encoding": {"x": {"datum": -2.6, "type": "quantitative", "scale": {"domain": [-14.144,109.27], "nice": false, "zero": false}, "axis": null}, "x2": {"datum": 101.6},
                    "y": {"datum": 25.9, "type": "quantitative", "scale": {"domain": [-11.5,31.1], "nice": false, "zero": false}, "axis": null}, "y2": {"datum": -11.5}}},
      {"data": {"values": [{}]},
       "mark": {"type": "rule", "color": "#8c8c8c", "strokeWidth": 1.5},
       "encoding": {"x": {"datum": -10.13}, "y": {"datum": 31.1}, "y2": {"datum": 29.5}}},
      {"data": {"values": [{}]},
       "mark": {"type": "rule", "color": "#8c8c8c", "strokeWidth": 1.5},
       "encoding": {"x": {"datum": -10.13}, "x2": {"datum": 109.27}, "y": {"datum": 29.5}}},
      {"data": {"name": "wedge"},
       "mark": {"type": "area", "stroke": "#111", "strokeWidth": 6, "strokeJoin": "miter", "strokeMiterLimit": 3,
                "fill": {"gradient": "linear", "x1": 0, "y1": 0, "x2": 1, "y2": 0, "stops": [{"offset": 0, "color": "#ffffff"}, {"offset": 0.45, "color": "#a9d0ef"}, {"offset": 0.75, "color": "#6db5e6"}, {"offset": 1, "color": "#1aa0dc"}]}},
       "encoding": {"x": {"field": "expr", "type": "quantitative"}, "y": {"field": "hi", "type": "quantitative"}, "y2": {"field": "lo"}}},
      {"data": {"values": [{"label": "Gene expression"}]},
       "mark": {"type": "text", "align": "right", "baseline": "middle", "fontSize": 27.5, "color": "#1a1a1a"},
       "encoding": {"x": {"datum": 99.5}, "y": {"datum": 20.0}, "text": {"field": "label"}}},
      {"data": {"values": [{}]},
       "mark": {"type": "rule", "strokeWidth": 5, "color": "#111"},
       "encoding": {"x": {"datum": 0}, "x2": {"datum": 100}, "y": {"datum": 0}}},
      {"data": {"name": "nodes"},
       "transform": [{"filter": "datum.tone==='poor'"}],
       "mark": {"type": "point", "shape": "circle", "size": 900, "filled": true, "stroke": "#111", "strokeWidth": 2.2, "opacity": 1,
                "fill": {"gradient": "radial", "x1": 0.5, "y1": 0.5, "r1": 0, "x2": 0.5, "y2": 0.5, "r2": 0.5, "stops": [{"offset": 0, "color": "#fbd3c4"}, {"offset": 0.55, "color": "#f0735c"}, {"offset": 1, "color": "#dc1f1f"}]}},
       "encoding": {"x": {"field": "p", "type": "quantitative"}, "y": {"datum": 0}}},
      {"data": {"name": "nodes"},
       "transform": [{"filter": "datum.tone==='good'"}],
       "mark": {"type": "point", "shape": "circle", "size": 900, "filled": true, "stroke": "#111", "strokeWidth": 2.2, "opacity": 1,
                "fill": {"gradient": "radial", "x1": 0.5, "y1": 0.5, "r1": 0, "x2": 0.5, "y2": 0.5, "r2": 0.5, "stops": [{"offset": 0, "color": "#e4f5dc"}, {"offset": 0.55, "color": "#7fcb78"}, {"offset": 1, "color": "#2e9e45"}]}},
       "encoding": {"x": {"field": "p", "type": "quantitative"}, "y": {"datum": 0}}},
      {"data": {"name": "genes"},
       "mark": {"type": "rect", "width": 98, "height": 38, "stroke": "#2a2a2a", "strokeWidth": 1.3,
                "fill": {"gradient": "linear", "x1": 0, "y1": 0, "x2": 1, "y2": 0, "stops": [{"offset": 0, "color": "#f8f0e7"}, {"offset": 0.55, "color": "#cfae88"}, {"offset": 1, "color": "#a9825a"}]}},
       "encoding": {"x": {"field": "p", "type": "quantitative"}, "y": {"field": "lvl", "type": "quantitative"}}},
      {"data": {"name": "genes"},
       "mark": {"type": "text", "align": "center", "baseline": "middle", "fontSize": 22, "color": "#1a1a1a"},
       "encoding": {"x": {"field": "p", "type": "quantitative"}, "y": {"field": "lvl", "type": "quantitative"}, "text": {"field": "gene"}}},
      {"data": {"values": [{"label": "Patient prognosis"}]},
       "mark": {"type": "text", "align": "center", "baseline": "middle", "fontSize": 25, "color": "#1a1a1a"},
       "encoding": {"x": {"datum": 50}, "y": {"datum": -4.0}, "text": {"field": "label"}}},
      {"data": {"values": [{}]},
       "mark": {"type": "rect", "fill": {"gradient": "linear", "x1": 0, "y1": 0, "x2": 1, "y2": 0, "stops": [{"offset": 0, "color": "#ffffff"}, {"offset": 0.5, "color": "#a4d9a0"}, {"offset": 1, "color": "#2eae48"}]}},
       "encoding": {"x": {"datum": 4.72}, "x2": {"datum": 44.9}, "y": {"datum": -7.47}, "y2": {"datum": -11.37}}},
      {"data": {"values": [{}]},
       "mark": {"type": "rect", "fill": {"gradient": "linear", "x1": 0, "y1": 0, "x2": 1, "y2": 0, "stops": [{"offset": 0, "color": "#fdf0ec"}, {"offset": 0.5, "color": "#f3a38f"}, {"offset": 1, "color": "#e8232a"}]}},
       "encoding": {"x": {"datum": 55.16}, "x2": {"datum": 95.8}, "y": {"datum": -7.47}, "y2": {"datum": -11.37}}},
      {"data": {"values": [{"label": "Tumour suppressive", "p": 24.8}, {"label": "Oncogenic", "p": 75.5}]},
       "mark": {"type": "text", "align": "center", "baseline": "middle", "fontSize": 24, "color": "#1a1a1a"},
       "encoding": {"x": {"field": "p", "type": "quantitative"}, "y": {"datum": -9.45}, "text": {"field": "label"}}},
      {"data": {"values": [{"label": "B"}]},
       "mark": {"type": "text", "align": "center", "baseline": "middle", "fontSize": 15, "fontWeight": "bold", "color": "#111"},
       "encoding": {"x": {"datum": -12.29}, "y": {"datum": 25.5}, "text": {"field": "label"}}}
    ]
  }
]
}
